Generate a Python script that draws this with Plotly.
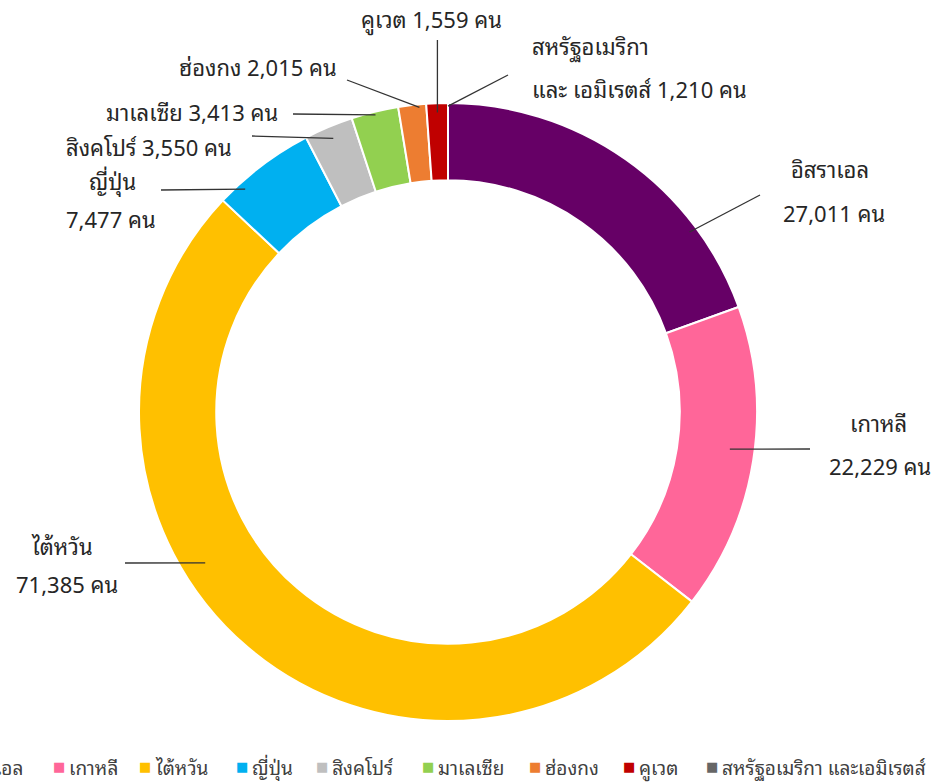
import math
import plotly.graph_objects as go

# ---------------- data ----------------
countries = ["อิสราเอล", "เกาหลี", "ไต้หวัน", "ญี่ปุ่น", "สิงคโปร์",
             "มาเลเซีย", "ฮ่องกง", "คูเวต", "สหรัฐอเมริกา และเอมิเรตส์"]
label_names = ["อิสราเอล", "เกาหลี", "ไต้หวัน", "ญี่ปุ่น", "สิงคโปร์",
               "มาเลเซีย", "ฮ่องกง", "คูเวต", "สหรัฐอเมริกา"]
visitors = [27011, 22229, 71385, 7477, 3550, 3413, 2015, 1559, 1210]
# the reference ring shows no visible slice for the last category
in_ring = [True, True, True, True, True, True, True, True, False]
colors = ["#660066", "#FF6699", "#FFC000", "#00B0F0", "#BFBFBF",
          "#92D050", "#ED7D31", "#C00000", "#666666"]

# ---------------- layout constants ----------------
W, H = 939, 782
ML, MR, MT, MB = 139, 182, 103, 61
PW, PH = W - ML - MR, H - MT - MB
CX, CY = ML + PW / 2, MT + PH / 2
R = min(PW, PH) / 2
FONT = "Tahoma, 'Noto Sans Thai Looped', Loma, Garuda, 'Noto Sans Thai', 'Noto Sans', sans-serif"
TXT = "#262626"
LFS = 22


def px(x):
    return (x - ML) / PW


def py(y):
    return 1 - (y - MT) / PH


ring_vals = [v if s else 0 for v, s in zip(visitors, in_ring)]
total = sum(ring_vals)
starts, ends = [], []
acc = 0
for v in ring_vals:
    starts.append(acc / total * 360)
    acc += v
    ends.append(acc / total * 360)


def anchor(i, frac, rf):
    a = math.radians(starts[i] + frac * (ends[i] - starts[i]))
    return CX + rf * R * math.sin(a), CY - rf * R * math.cos(a)


fig = go.Figure(go.Pie(
    labels=countries, values=ring_vals, hole=0.75, sort=False,
    direction="clockwise", rotation=0,
    marker=dict(colors=colors, line=dict(color="white", width=2)),
    textinfo="none", showlegend=False,
))

# label layout: (lines [(text, x, y, xanchor)], leader start (x,y), frac, radius factor)
labels_cfg = [
    ([(label_names[0], 830, 168, "center"), (f"{visitors[0]:,} คน", 834, 212, "center")], (760, 195), 0.76, 0.975),
    ([(label_names[1], 878, 422, "center"), (f"{visitors[1]:,} คน", 880, 465, "center")], (810, 449), 0.474, 0.92),
    ([(label_names[2], 62, 545, "center"), (f"{visitors[2]:,} คน", 67, 583, "center")], (125, 563), 0.595, 0.925),
    ([(label_names[3], 112, 180, "center"), (f"{visitors[3]:,} คน", 111, 218, "center")], (161, 190), 0.23, 0.975),
    ([(f"{label_names[4]} {visitors[4]:,} คน", 149, 146, "center")], (252, 136), 0.5, 0.96),
    ([(f"{label_names[5]} {visitors[5]:,} คน", 192, 111, "center")], (293, 114), 0.5, 0.99),
    ([(f"{label_names[6]} {visitors[6]:,} คน", 258, 66, "center")], (347, 80), 0.75, 0.99),
    ([(f"{label_names[7]} {visitors[7]:,} คน", 431, 18, "center")], None, 0.5, 0.97),
    ([(label_names[8], 530, 45, "left"), (f"และ เอมิเรตส์ {visitors[8]:,} คน", 530, 88, "left")], (508, 75), 0.5, 0.99),
]

annotations = []
shapes = []
for i, (lines, lstart, frac, rf) in enumerate(labels_cfg):
    for (t, x, y, xa) in lines:
        annotations.append(dict(text=t, x=px(x), y=py(y), xref="paper", yref="paper",
                                xanchor=xa, yanchor="middle", showarrow=False,
                                font=dict(family=FONT, size=LFS, color=TXT)))
    ax, ay = anchor(i, frac, rf)
    if lstart is None:
        lstart = (ax, 40)
    shapes.append(dict(type="line", xref="paper", yref="paper",
                       x0=px(lstart[0]), y0=py(lstart[1]), x1=px(ax), y1=py(ay),
                       line=dict(color="#333333", width=1.3)))

# legend row (cropped on the left like the reference)
legend_x = [-60, 53, 139, 236, 316, 422, 529, 623, 706]
for name, c, x in zip(countries, colors, legend_x):
    annotations.append(dict(
        text="■", x=px(x - 2), y=py(766), xref="paper", yref="paper",
        xanchor="left", yanchor="middle", showarrow=False,
        font=dict(family="DejaVu Sans", size=13, color=c)))
    annotations.append(dict(
        text=name, x=px(x + 14), y=py(767), xref="paper", yref="paper",
        xanchor="left", yanchor="middle", showarrow=False,
        font=dict(family=FONT, size=19, color="#404040")))

fig.update_layout(
    width=W, height=H, margin=dict(l=ML, r=MR, t=MT, b=MB),
    paper_bgcolor="white", plot_bgcolor="white",
    annotations=annotations, shapes=shapes, showlegend=False,
)
fig.write_html(
    "out.html",
    config={"displayModeBar": False},
    post_script="document.body.style.margin='0';document.body.style.overflow='hidden';",
)
